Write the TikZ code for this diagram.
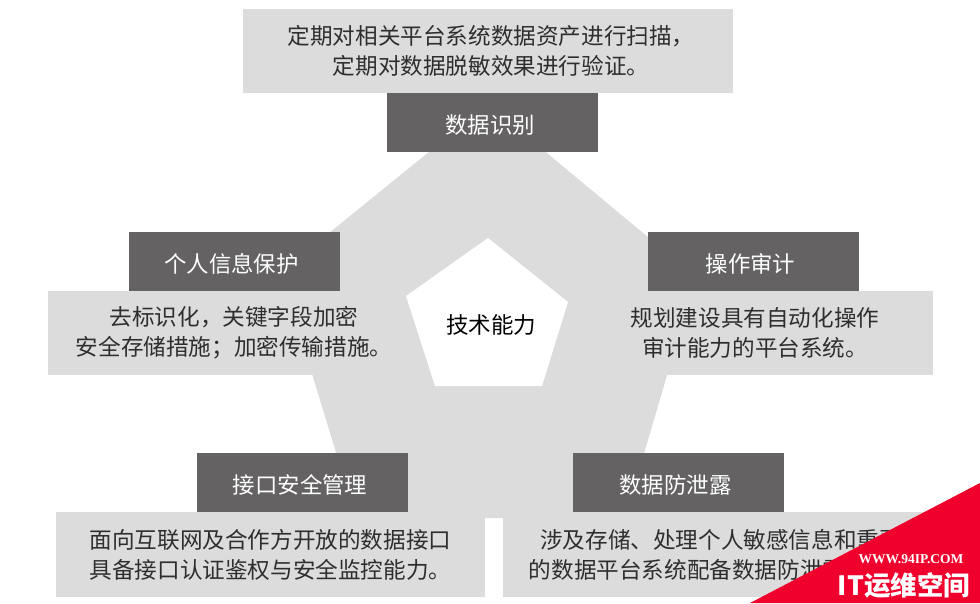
\documentclass[tikz,border=0pt]{standalone}
\usepackage{fontspec}
\setmainfont{Noto Sans CJK SC}
\newfontfamily\wwwfont{Liberation Serif}
\definecolor{ringgray}{HTML}{DCDCDC}
\definecolor{labelgray}{HTML}{646262}
\definecolor{bodyink}{HTML}{2E2E2E}
\definecolor{markred}{HTML}{F0002D}
\tikzset{
  infobox/.style={fill=ringgray,text=bodyink,align=center,inner sep=0pt,font=\fontsize{22.6}{30}\selectfont,execute at begin node={\vspace*{4pt}}},
  titlebox/.style={fill=labelgray,text=white,align=center,inner sep=0pt,minimum width=211,minimum height=59,font=\fontsize{22.4}{26}\selectfont,execute at begin node={\rule{0pt}{24pt}},execute at end node={\hspace{5pt}}}
}
\begin{document}
\begin{tikzpicture}[x=1pt,y=-1pt]
  \useasboundingbox (0,0) rectangle (980,603);

  \coordinate (O1) at (488,104);
  \coordinate (O2) at (696,277);
  \coordinate (O3) at (625,518);
  \coordinate (O4) at (356,518);
  \coordinate (O5) at (281,272);

  \coordinate (I1) at (488,238);
  \coordinate (I2) at (568,302);
  \coordinate (I3) at (542,386);
  \coordinate (I4) at (435,386);
  \coordinate (I5) at (406,296);

  % 外环
  \fill[ringgray] (O1) -- (O2) -- (O3) -- (O4) -- (O5) -- cycle;

  % 说明框
  \node[infobox,minimum width=490,minimum height=84] (scanbox) at (488,51) {\hspace*{6pt}定期对相关平台系统数据资产进行扫描，\\\hspace*{6pt}定期对数据脱敏效果进行验证。};
  \node[infobox,minimum width=372,minimum height=84] (privacybox) at (234,333) {去标识化，关键字段加密\\安全存储措施；加密传输措施。};
  \node[infobox,minimum width=356,minimum height=84] (auditbox) at (755,333) {规划建设具有自动化操作\\审计能力的平台系统。};
  \node[infobox,minimum width=429,minimum height=85] (apibox) at (270.5,554.5) {面向互联网及合作方开放的数据接口\\具备接口认证鉴权与安全监控能力。};
  \node[infobox,minimum width=436,minimum height=85] (leakbox) at (721,554.5) {涉及存储、处理个人敏感信息和重要\\的数据平台系统配备数据防泄露能力。};

  % 标题框
  \node[titlebox] (identify) at (492.5,122.5) {数据识别};
  \node[titlebox] (privacy) at (234,261.5) {个人信息保护};
  \node[titlebox] (audit) at (753,261.5) {操作审计};
  \node[titlebox] (api) at (302.5,482) {接口安全管理};
  \node[titlebox] (leak) at (678,482) {数据防泄露};

  % 中心
  \fill[white] (I1) -- (I2) -- (I3) -- (I4) -- (I5) -- cycle;
  \node[text=black,inner sep=0pt,font=\fontsize{22.5}{26}\selectfont] (center) at (491,325) {技术能力};

  % 角标
  \coordinate (M1) at (980,483);
  \coordinate (M2) at (980,603);
  \coordinate (M3) at (750,603);
  \fill[markred] (M1) -- (M2) -- (M3) -- cycle;
  \node[text=white,inner sep=0pt,font=\wwwfont\bfseries\fontsize{13.5}{14}\selectfont] (site) at (911,559) {WWW.94IP.COM};
  \node[text=white,inner sep=0pt,font=\bfseries\fontsize{26.5}{28}\selectfont] (brand) at (904,585) {IT运维空间};
\end{tikzpicture}
\end{document}
